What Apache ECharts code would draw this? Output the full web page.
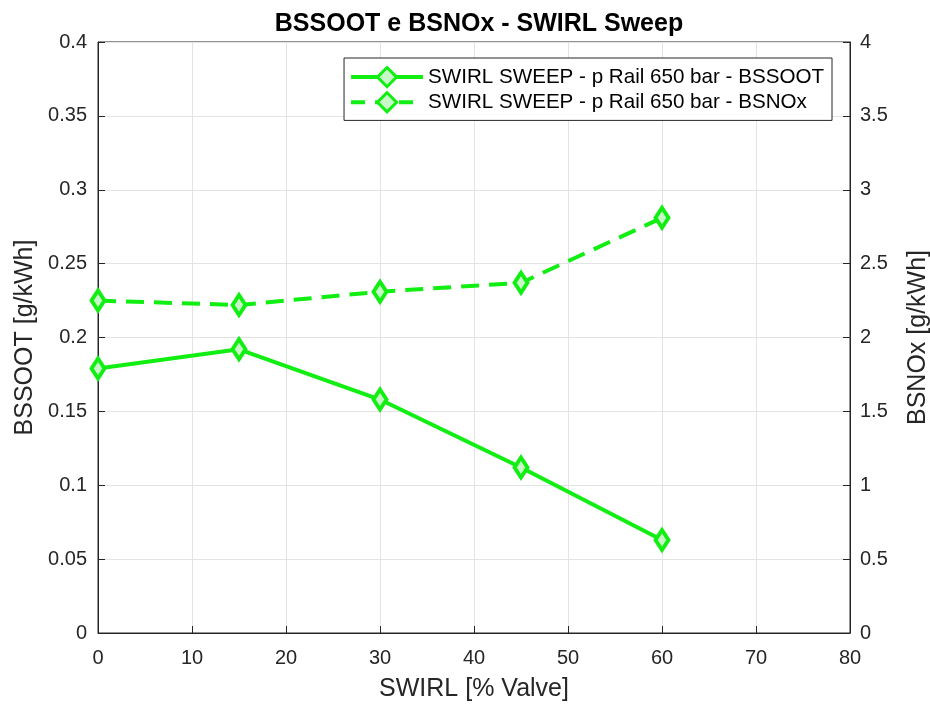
<!DOCTYPE html>
<html><head><meta charset="utf-8">
<script src="https://cdn.jsdelivr.net/npm/echarts@6/dist/echarts.min.js"></script>
<style>html,body{margin:0;padding:0;background:#fff}#c{width:930px;height:704px}</style>
</head><body><div id="c"></div>
<script>
const swirl = [0, 15, 30, 45, 60];
const bssoot = [0.179, 0.192, 0.158, 0.112, 0.063];
const bsnox = [2.25, 2.22, 2.31, 2.37, 2.81];
const nameSoot = 'SWIRL SWEEP - p Rail 650 bar - BSSOOT';
const nameNox = 'SWIRL SWEEP - p Rail 650 bar - BSNOx';
const green = '#11ee11';
const font = 'Liberation Sans, Arial, Helvetica, sans-serif';
const chart = echarts.init(document.getElementById('c'));
const axisCommon = {
  axisLine: {show: true, lineStyle: {color: '#262626', width: 1}},
  axisTick: {show: true, inside: true, length: 7, lineStyle: {color: '#262626'}},
  axisLabel: {color: '#262626', fontSize: 20, fontFamily: font},
  nameTextStyle: {color: '#262626', fontSize: 25, fontFamily: font}
};
const legendItem = {color: '#c8f8c8', borderColor: green, borderWidth: 3};
chart.setOption({
  animation: false,
  backgroundColor: '#fff',
  title: {text: 'BSSOOT e BSNOx - SWIRL Sweep', left: 474, textAlign: 'center', top: 7,
    textStyle: {fontSize: 25, fontWeight: 'bold', color: '#000', fontFamily: font}},
  grid: {left: 98, right: 80, top: 42, bottom: 71, show: true, borderColor: '#262626', borderWidth: 1,
    containLabel: false, outerBoundsMode: 'none'},
  legend: {
    right: 98, top: 58, orient: 'vertical', itemWidth: 72, itemHeight: 24, itemGap: 3,
    backgroundColor: '#fff', borderColor: '#262626', borderWidth: 1, padding: [8, 8, 7, 5],
    textStyle: {fontSize: 20.6, color: '#000', fontFamily: font},
    data: [
      {name: nameSoot, lineStyle: {width: 4}, itemStyle: legendItem},
      {name: nameNox, lineStyle: {width: 4, type: [14, 10]}, itemStyle: legendItem}
    ]
  },
  xAxis: Object.assign({}, axisCommon, {
    type: 'value', min: 0, max: 80, interval: 10, name: 'SWIRL [% Valve]',
    nameLocation: 'middle', nameGap: 44,
    axisLabel: Object.assign({}, axisCommon.axisLabel, {margin: 15}),
    splitLine: {show: true, lineStyle: {color: '#e3e3e3'}}
  }),
  yAxis: [
    Object.assign({}, axisCommon, {
      type: 'value', min: 0, max: 0.4, interval: 0.05, name: 'BSSOOT [g/kWh]',
      nameLocation: 'middle', nameGap: 59, position: 'left',
      axisLabel: Object.assign({}, axisCommon.axisLabel, {margin: 11}),
      splitLine: {show: true, lineStyle: {color: '#e3e3e3'}}
    }),
    Object.assign({}, axisCommon, {
      type: 'value', min: 0, max: 4, interval: 0.5, name: 'BSNOx [g/kWh]',
      nameLocation: 'middle', nameGap: 56, position: 'right', nameRotate: 90,
      axisLabel: Object.assign({}, axisCommon.axisLabel, {margin: 10}),
      splitLine: {show: false}
    })
  ],
  series: [
    {name: nameSoot, type: 'line', yAxisIndex: 0,
      data: swirl.map((x, i) => [x, bssoot[i]]),
      lineStyle: {color: green, width: 4},
      symbol: 'diamond', symbolSize: [13, 20],
      itemStyle: {color: '#c8f8c8', borderColor: green, borderWidth: 4}},
    {name: nameNox, type: 'line', yAxisIndex: 1,
      data: swirl.map((x, i) => [x, bsnox[i]]),
      lineStyle: {color: green, width: 4, type: [18, 10]},
      symbol: 'diamond', symbolSize: [13, 20],
      itemStyle: {color: '#c8f8c8', borderColor: green, borderWidth: 4}}
  ]
});
</script></body></html>
